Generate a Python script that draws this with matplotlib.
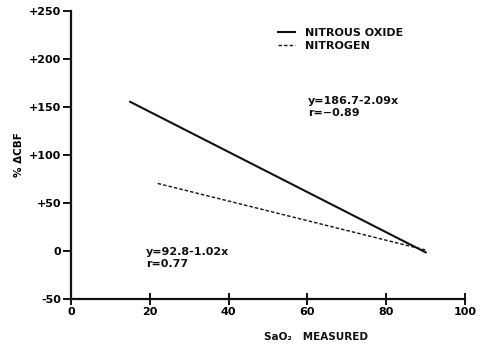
import matplotlib
matplotlib.use("Agg")
import matplotlib.pyplot as plt
import numpy as np

# Regression lines (endpoints)
n2o_x = [15, 90]
n2o_y = [186.7 - 2.09 * 15, 186.7 - 2.09 * 90]
n2_x = [22, 90]
n2_y = [92.8 - 1.02 * 22, 92.8 - 1.02 * 90]

xticks = [0, 20, 40, 60, 80, 100]
yticks = [-50, 0, 50, 100, 150, 200, 250]
ylabels = ["-50", "0", "+50", "+100", "+150", "+200", "+250"]

INK = "#111111"
plt.rcParams.update({
    "font.family": "DejaVu Sans",
    "font.weight": "bold",
    "text.color": INK,
    "axes.edgecolor": INK,
})

fig = plt.figure(figsize=(4.8, 3.51), dpi=100)
ax = fig.add_axes([0.148, 0.148, 0.821, 0.821])

ax.plot(n2o_x, n2o_y, color=INK, lw=1.5, label="NITROUS OXIDE")
ax.plot(n2_x, n2_y, color=INK, lw=1.0, ls=(0, (2.5, 1.5)), label="NITROGEN")

ax.set_xlim(0, 100)
ax.set_ylim(-50, 250)
ax.set_xticks(xticks)
ax.set_yticks(yticks)
ax.set_yticklabels(ylabels)
for s in ["top", "right"]:
    ax.spines[s].set_visible(False)
for s in ["left", "bottom"]:
    ax.spines[s].set_linewidth(1.6)
ax.tick_params(axis="x", direction="inout", length=8, width=1.3,
               labelsize=8, pad=2)
ax.tick_params(axis="y", direction="out", length=6, width=1.3,
               labelsize=8, pad=1)
for lab in ax.get_xticklabels() + ax.get_yticklabels():
    lab.set_fontweight("bold")

ax.legend(loc="upper left", bbox_to_anchor=(0.5, 0.975), frameon=False,
          handlelength=1.5, handletextpad=0.9, labelspacing=0.25,
          prop={"weight": "bold", "size": 8})

ax.text(60.2, 150, "y=186.7-2.09x\nr=\u22120.89", fontsize=8,
        fontweight="bold", va="center", linespacing=1.25)
ax.text(19, -7, "y=92.8-1.02x\nr=0.77", fontsize=8,
        fontweight="bold", va="center", linespacing=1.25)

ax.set_ylabel("% \u0394CBF", fontsize=7.5, fontweight="bold", labelpad=4)
fig.text(0.55, 0.03, "SaO\u2082   MEASURED", ha="left", fontsize=7.5,
         fontweight="bold")

fig.savefig("out.png", dpi=100, facecolor="white")
